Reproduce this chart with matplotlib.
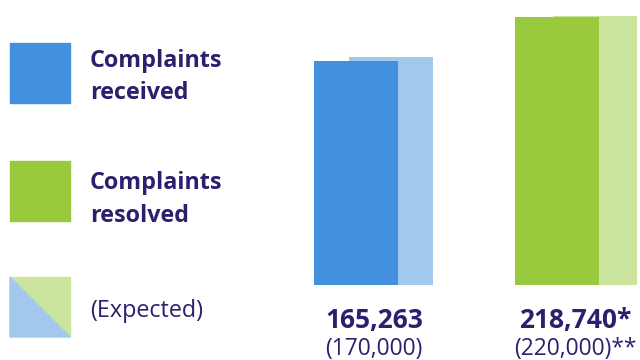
import matplotlib.pyplot as plt
from matplotlib.patches import Rectangle, Polygon

categories = ["Complaints\nreceived", "Complaints\nresolved"]
actual = [165263, 218740]
expected = [170000, 220000]
actual_labels = ["165,263", "218,740*"]
expected_labels = ["(170,000)", "(220,000)**"]

dark = "#2d1f6e"
solid = ["#4390df", "#99c93c"]
light = ["#a2c8ee", "#cce59d"]

plt.rcParams["font.family"] = ["Open Sans", "DejaVu Sans"]

fig = plt.figure(figsize=(6.4, 3.6), dpi=100)
W, H = 640, 360

# axes spans the full width, bottom of bars at y=285px
ax = fig.add_axes([0, 1 - 285 / H, 1, 285 / H])
base = -111700
ax.set_ylim(base, base + 285 / 8.1e-4)
ax.set_xlim(-356 / 201, (640 - 356) / 201)
ax.axis("off")

width = 0.418
for i in range(len(actual)):
    off = 0.175 if i == 0 else 0.19
    ax.bar(i + off, expected[i] - base, width, bottom=base, color=light[i], zorder=1)
    ax.bar(i, actual[i] - base, width, bottom=base, color=solid[i], zorder=2)
    cx = i + 0.09
    ax.text(cx, -0.125, actual_labels[i], transform=ax.get_xaxis_transform(),
            ha="center", va="center", fontsize=19, fontweight="bold", color=dark, clip_on=False)
    ax.text(cx, -0.225, expected_labels[i], transform=ax.get_xaxis_transform(),
            ha="center", va="center", fontsize=16.4, color=dark, clip_on=False)

# legend
def px(x, y):
    return x / W, 1 - y / H

sq = 60
for i, lab in enumerate(categories):
    top = [43, 161][i]
    x0, y0 = px(10, top + sq)
    fig.patches.append(Rectangle((x0, y0), sq / W, sq / H, transform=fig.transFigure,
                                 color=solid[i]))
    tx, ty = px(90, [77, 199.5][i])
    fig.text(tx, ty, lab, ha="left", va="center", fontsize=16.8, fontweight="bold",
             color=dark, linespacing=1.45)

top = 277
fig.patches.append(Polygon([px(10, top), px(70, top), px(70, top + sq)], closed=True,
                           transform=fig.transFigure, color=light[1]))
fig.patches.append(Polygon([px(10, top), px(70, top + sq), px(10, top + sq)], closed=True,
                           transform=fig.transFigure, color=light[0]))
tx, ty = px(90, 311)
fig.text(tx, ty, "(Expected)", ha="left", va="center", fontsize=16.8, color=dark)

fig.savefig("out.png", dpi=100)
